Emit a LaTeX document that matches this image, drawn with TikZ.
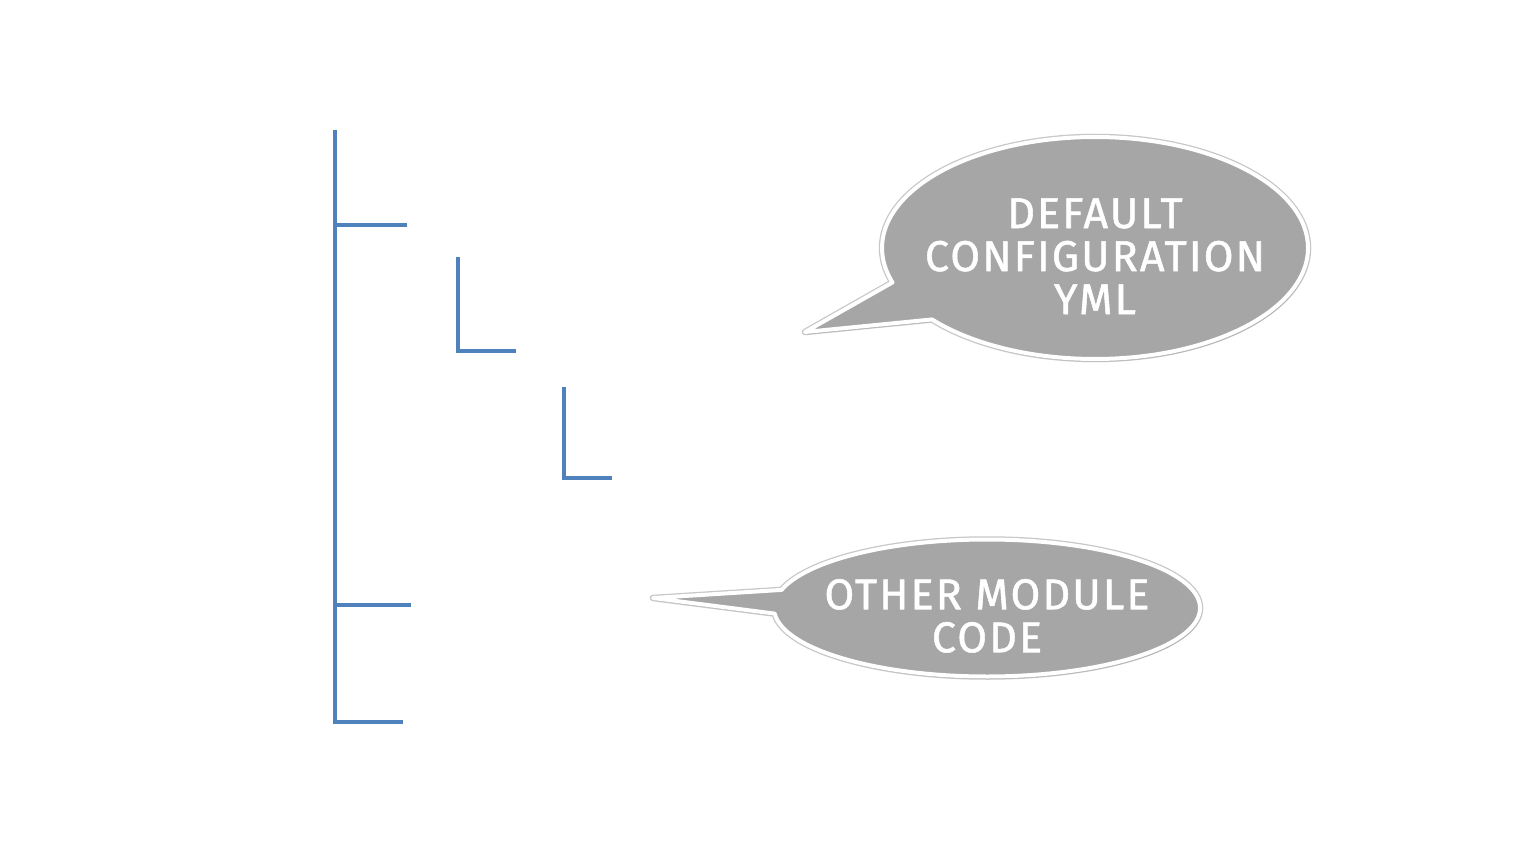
\documentclass[tikz,border=0pt]{standalone}
\usepackage{fontspec}
\setmainfont{Fira Sans}
\newfontfamily\bubblefont[LetterSpace=5,FakeBold=1.2]{Fira Sans}
\usetikzlibrary{shapes.callouts,shadows}
\definecolor{treeblue}{RGB}{79,129,189}
\definecolor{bubblegray}{RGB}{166,166,166}
\tikzset{
  treeline/.style={draw=treeblue,line width=4pt,line cap=butt,line join=miter},
  bubble/.style={ellipse callout,draw=white,line width=4pt,line join=round,fill=bubblegray,
    preaction={draw=black!22,line width=6.5pt,line join=round},
    drop shadow={shadow xshift=1.5pt,shadow yshift=-2.5pt,opacity=0.3},
    text=white,align=center,inner xsep=-40pt,inner ysep=0pt,
    font=\fontsize{43}{43}\selectfont\bubblefont}
}
\begin{document}
\begin{tikzpicture}[x=1pt,y=-1pt]
\useasboundingbox[fill=white] (0,0) rectangle (1515,845);
% tree
\coordinate (top) at (335,130);
\coordinate (b1) at (335,225);
\coordinate (b1e) at (407,225);
\coordinate (b2) at (335,605);
\coordinate (b2e) at (411,605);
\coordinate (bot) at (335,722);
\coordinate (bote) at (403,722);
\coordinate (l1t) at (458,257);
\coordinate (l1c) at (458,351);
\coordinate (l1e) at (516,351);
\coordinate (l2t) at (564,387);
\coordinate (l2c) at (564,478);
\coordinate (l2e) at (612,478);
\draw[treeline] (top) -- (bot) -- (bote);
\draw[treeline] (b1) -- (b1e);
\draw[treeline] (b2) -- (b2e);
\draw[treeline] (l1t) -- (l1c) -- (l1e);
\draw[treeline] (l2t) -- (l2c) -- (l2e);
% callouts
\coordinate (tip1) at (805,332);
\coordinate (tip2) at (653,598);
\node[bubble,minimum width=426pt,minimum height=222pt,
  callout absolute pointer={(tip1)},callout pointer arc=22] (c1) at (1095,248)
  {\mbox{}\\[3pt]DEFAULT\\CONFIGURATION\\YML};
\node[bubble,minimum width=426pt,minimum height=137pt,
  callout absolute pointer={(tip2)},callout pointer arc=20] (c2) at (987,608)
  {\mbox{}\\[3pt]OTHER MODULE\\CODE};
\end{tikzpicture}
\end{document}
